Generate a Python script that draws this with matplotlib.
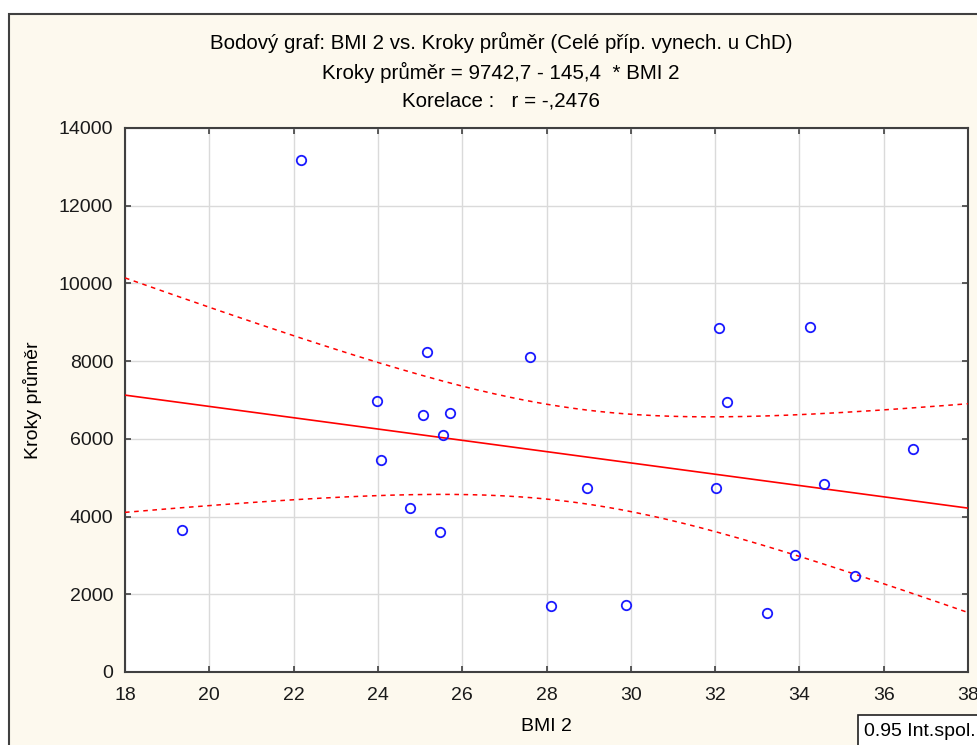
import numpy as np
import matplotlib
matplotlib.use('Agg')
import matplotlib.pyplot as plt
from matplotlib.patches import Rectangle

plt.rcParams['font.family'] = ['Liberation Sans', 'DejaVu Sans']

# data
bmi = [22.18, 19.35, 23.99, 24.08, 24.75, 25.17, 25.08, 25.72, 25.55, 25.48,
       27.62, 28.10, 28.97, 29.88, 32.09, 32.28, 32.01, 33.23, 33.89, 34.25,
       34.58, 35.32, 36.69]
kroky = [13176, 3654, 6974, 5456, 4221, 8235, 6614, 6665, 6099, 3603,
         8107, 1699, 4735, 1724, 8853, 6949, 4735, 1518, 3011, 8879,
         4838, 2471, 5739]

intercept = 9742.7
slope = -145.4
t_crit = 2.080  # t(0.975, df=21)

x = np.array(bmi)
y = np.array(kroky)
n = len(x)

# regression line and 95% confidence band of the mean
xs = np.linspace(18, 38, 200)
fit = intercept + slope * xs
resid = y - (intercept + slope * x)
s = np.sqrt(np.sum(resid ** 2) / (n - 2))
sxx = np.sum((x - x.mean()) ** 2)
band = t_crit * s * np.sqrt(1.0 / n + (xs - x.mean()) ** 2 / sxx)

fig = plt.figure(figsize=(9.77, 7.45), dpi=100)
fig.patch.set_facecolor('white')

# cream window frame
fig.patches.append(Rectangle((9 / 977, -0.1), 1.2, 1 - 14 / 745 + 0.1,
                             transform=fig.transFigure, facecolor='#fdf9ee',
                             edgecolor='#404040', linewidth=1.5, zorder=-5))

ax = fig.add_axes([125 / 977, 1 - 672 / 745, (968 - 125) / 977, (672 - 128) / 745])
ax.set_zorder(1)
ax.set_facecolor('white')

ax.plot(xs, fit, color='#ff0000', linewidth=1.2, zorder=3)
ax.plot(xs, fit + band, color='#ff0000', linewidth=1.1, linestyle=(0, (3, 3)), zorder=3)
ax.plot(xs, fit - band, color='#ff0000', linewidth=1.1, linestyle=(0, (3, 3)), zorder=3)
ax.plot(x, y, linestyle='none', marker='o', markersize=6.8, markerfacecolor='none',
        markeredgecolor='#1a1aff', markeredgewidth=1.3, zorder=4)

ax.set_xlim(18, 38)
ax.set_ylim(0, 14000)
ax.set_xticks(np.arange(18, 39, 2))
ax.set_yticks(np.arange(0, 14001, 2000))
ax.grid(True, color='#dadada', linewidth=1)
ax.set_axisbelow(True)
ax.tick_params(direction='in', length=4, width=1.2, color='#404040',
               top=True, right=True, labelsize=14, labelcolor='#1a1a1a')
ax.tick_params(axis='x', pad=11)
ax.tick_params(axis='y', pad=8.5)
for sp in ax.spines.values():
    sp.set_color('#404040')
    sp.set_linewidth(1.5)

ax.set_xlabel('BMI 2', fontsize=14, labelpad=10)
ax.set_ylabel('Kroky průměr', fontsize=14, labelpad=12)

fig.text(501 / 977, 1 - 42 / 745, 'Bodový graf: BMI 2 vs. Kroky průměr (Celé příp. vynech. u ChD)',
         ha='center', va='center', fontsize=14.8)
fig.text(501 / 977, 1 - 72 / 745, 'Kroky průměr = 9742,7 - 145,4  * BMI 2',
         ha='center', va='center', fontsize=14.8)
fig.text(501 / 977, 1 - 101 / 745, 'Korelace :   r = -,2476',
         ha='center', va='center', fontsize=14.8)

fig.patches.append(Rectangle((858 / 977, -0.1), 0.3, 0.1 + 30 / 745,
                             transform=fig.transFigure, facecolor='white',
                             edgecolor='#202020', linewidth=1.2, zorder=5))
fig.text(864 / 977, 1 - 731 / 745, '0.95 Int.spol.', ha='left', va='center', fontsize=14,
         zorder=6)

fig.savefig('out.png', dpi=100)
